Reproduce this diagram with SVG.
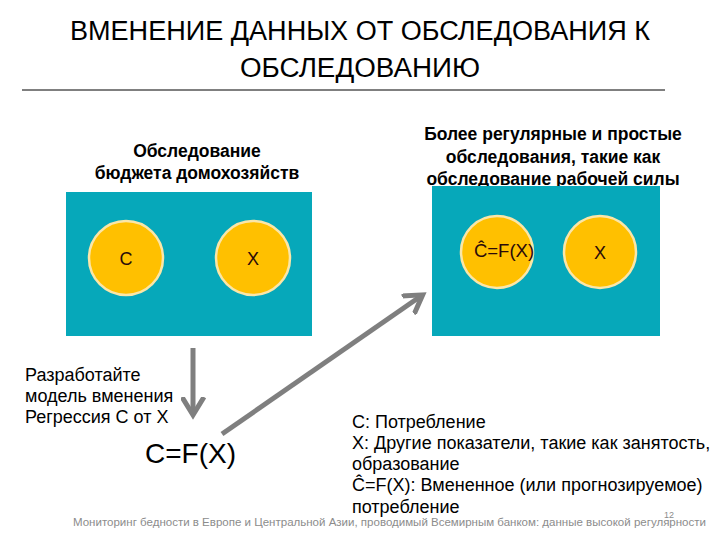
<svg xmlns="http://www.w3.org/2000/svg" width="720" height="540" viewBox="0 0 720 540">
<defs>
<style>
.title{font-family:"Liberation Sans",Arial,sans-serif;font-size:27px;fill:#000;text-anchor:middle}
.hdr{font-family:"Liberation Sans",Arial,sans-serif;font-size:17.5px;font-weight:bold;fill:#000;text-anchor:middle}
.box{fill:#06A8BA}
.circ{fill:#FFC000;stroke:#FAE6A8;stroke-width:2.5}
.ctext{font-family:"Liberation Sans",Arial,sans-serif;font-size:18px;fill:#2a0a0a;text-anchor:middle}
.body{font-family:"Liberation Sans",Arial,sans-serif;font-size:18px;fill:#000}
.foot{font-family:"Liberation Sans",Arial,sans-serif;font-size:10.5px;fill:#8c8c8c}
.arrow{stroke:#7f7f7f;stroke-width:5;fill:none}
</style>
<marker id="ah" markerWidth="5" markerHeight="5" refX="3.2" refY="2.5" orient="auto" markerUnits="strokeWidth">
<path d="M0,0.3 L3.6,2.5 L0,4.7" fill="none" stroke="#7f7f7f" stroke-width="1"/>
</marker>
</defs>
<g id="title">
<text class="title" x="360" y="40" textLength="580" lengthAdjust="spacingAndGlyphs">ВМЕНЕНИЕ ДАННЫХ ОТ ОБСЛЕДОВАНИЯ К</text>
<text class="title" x="360" y="77" textLength="240" lengthAdjust="spacingAndGlyphs">ОБСЛЕДОВАНИЮ</text>
<line x1="22" y1="90" x2="665" y2="90" stroke="#000" stroke-width="1"/>
</g>
<g id="survey-left">
<text class="hdr" x="197" y="157">Обследование</text>
<text class="hdr" x="197" y="179">бюджета домохозяйств</text>
<rect class="box" x="66" y="192" width="246" height="144"/>
</g>
<g id="node-c">
<circle class="circ" cx="126" cy="258" r="37"/>
<text class="ctext" x="126" y="265">C</text>
</g>
<g id="node-x-left">
<circle class="circ" cx="253" cy="258" r="37"/>
<text class="ctext" x="253" y="265">X</text>
</g>
<g id="survey-right">
<text class="hdr" x="553" y="140">Более регулярные и простые</text>
<text class="hdr" x="553" y="163">обследования, такие как</text>
<text class="hdr" x="553" y="185">обследование рабочей силы</text>
<rect class="box" x="432" y="186" width="228" height="150"/>
</g>
<g id="node-chat">
<circle class="circ" cx="497" cy="252" r="36"/>
<text class="ctext" x="504" y="257" style="font-size:18.5px">Ĉ=F(X)</text>
</g>
<g id="node-x-right">
<circle class="circ" cx="600" cy="252" r="36"/>
<text class="ctext" x="600" y="259">X</text>
</g>
<g id="model-text">
<text class="body" x="25" y="381">Разработайте</text>
<text class="body" x="25" y="402">модель вменения</text>
<text class="body" x="25" y="423">Регрессия C от X</text>
</g>
<g id="node-model">
<text class="body" x="145" y="463" style="font-size:28px">C=F(X)</text>
</g>
<g id="legend">
<text class="body" x="352" y="428">C: Потребление</text>
<text class="body" x="352" y="449">X: Другие показатели, такие как занятость,</text>
<text class="body" x="352" y="470">образование</text>
<text class="body" x="352" y="491">Ĉ=F(X): Вмененное (или прогнозируемое)</text>
<text class="body" x="352" y="513">потребление</text>
</g>
<g id="connectors">
<line class="arrow" x1="193" y1="348" x2="193" y2="413" marker-end="url(#ah)"/>
<line class="arrow" x1="222" y1="434" x2="421" y2="296" marker-end="url(#ah)"/>
</g>
<g id="footer">
<text class="foot" x="73" y="526" textLength="633" lengthAdjust="spacingAndGlyphs">Мониторинг бедности в Европе и Центральной Азии, проводимый Всемирным банком: данные высокой регулярности</text>
<text class="foot" x="664" y="518" style="font-size:9px">12</text>
</g>
</svg>
